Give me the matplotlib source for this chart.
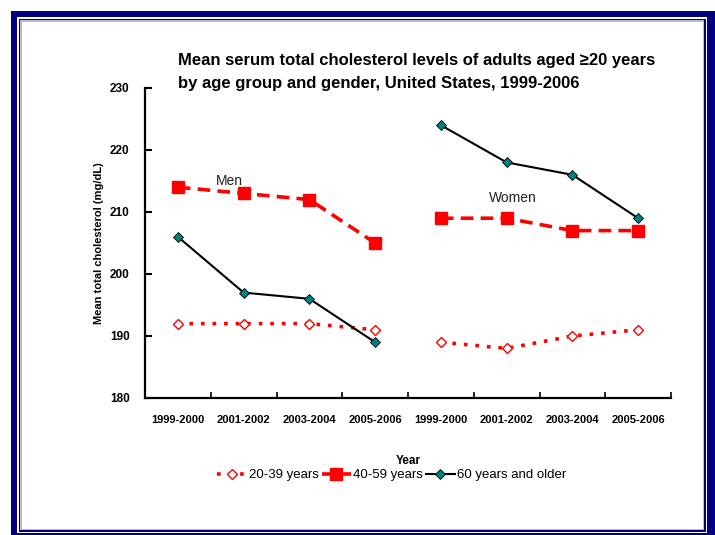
import numpy as np
import matplotlib.pyplot as plt
from matplotlib.patches import Rectangle
from matplotlib.lines import Line2D

plt.rcParams['font.family'] = ['Liberation Sans', 'DejaVu Sans']

periods = ["1999-2000", "2001-2002", "2003-2004", "2005-2006"]
tick_labels = periods + periods

# mean serum total cholesterol (mg/dL), men then women
men_20_39 = [192, 192, 192, 191]
men_40_59 = [214, 213, 212, 205]
men_60_up = [206, 197, 196, 189]
women_20_39 = [189, 188, 190, 191]
women_40_59 = [209, 209, 207, 207]
women_60_up = [224, 218, 216, 209]

W, H = 715, 535
fig = plt.figure(figsize=(W / 100, H / 100), dpi=100)


def px_rect(x0, y0, x1, y1, **kw):
    # rectangle given in pixel coords measured from the top-left corner
    return Rectangle((x0 / W, 1 - y1 / H), (x1 - x0) / W, (y1 - y0) / H,
                     transform=fig.transFigure, zorder=-10, **kw)


# blue double frame round the slide
navy = "#000080"
fig.patches.append(px_rect(11, 11, 716, 540, facecolor=navy, edgecolor="none"))
fig.patches.append(px_rect(17, 17, 707, 533, facecolor="white", edgecolor="none"))
fig.patches.append(px_rect(18.5, 18.5, 705.5, 531.5, facecolor=navy, edgecolor="none"))
fig.patches.append(px_rect(20, 20, 704, 530, facecolor="#b8b8e0", edgecolor="none"))
fig.patches.append(px_rect(21.5, 21.5, 702.5, 528.5, facecolor="white", edgecolor="none"))

ax = fig.add_axes([145 / W, 1 - 398 / H, (671 - 145) / W, (398 - 88) / H])
ax.set_facecolor("none")
ax.set_zorder(5)

x_men = np.arange(4)
x_women = np.arange(4, 8)

red = "#ff0000"
teal = "#008080"

style_young = dict(color=red, linestyle=(0, (1, 2.2)), linewidth=2.6,
                   marker="D", markersize=5, markerfacecolor="white",
                   markeredgecolor=red, markeredgewidth=1.0)
style_mid = dict(color=red, linestyle=(0, (3.5, 2.0)), linewidth=2.6,
                 marker="s", markersize=8, markerfacecolor=red,
                 markeredgecolor=red)
style_old = dict(color="black", linestyle="-", linewidth=1.5,
                 marker="D", markersize=5, markerfacecolor=teal,
                 markeredgecolor="black", markeredgewidth=0.6)

for xs, young, mid, old in [(x_men, men_20_39, men_40_59, men_60_up),
                            (x_women, women_20_39, women_40_59, women_60_up)]:
    ax.plot(xs, young, clip_on=False, **style_young)
    ax.plot(xs, mid, clip_on=False, **style_mid)
    ax.plot(xs, old, clip_on=False, **style_old)

ax.set_xlim(-0.5, 7.5)
ax.set_ylim(180, 230)
ax.set_yticks(np.arange(180, 231, 10))
ax.set_xticks(np.arange(8))
ax.set_xticklabels(tick_labels, fontsize=8, fontweight="bold")
ax.set_xticks(np.arange(-0.5, 8, 1), minor=True)
ax.tick_params(axis="x", which="major", length=0, pad=12)
ax.tick_params(axis="x", which="minor", length=4, width=1.2, direction="in")
ax.tick_params(axis="y", length=5, width=1.5, direction="in", labelsize=8.5, pad=11)
for lab in ax.get_yticklabels():
    lab.set_fontweight("bold")

for side in ["top", "right"]:
    ax.spines[side].set_visible(False)
for side in ["left", "bottom"]:
    ax.spines[side].set_linewidth(1.6)

ax.set_xlabel("Year", fontsize=8.5, fontweight="bold", labelpad=22)
ax.set_ylabel("Mean total cholesterol (mg/dL)", fontsize=8, fontweight="bold", labelpad=4)

ax.text(0.58, 215.0, "Men", fontsize=10, color="#222222", va="center")
ax.text(4.73, 212.3, "Women", fontsize=10, color="#222222", va="center")

fig.text(178 / W, 1 - 72 / H,
         "Mean serum total cholesterol levels of adults aged \u226520 years\n"
         "by age group and gender, United States, 1999-2006",
         fontsize=12, fontweight="bold", ha="left", va="center", linespacing=1.6)

handles = [
    Line2D([], [], **style_young),
    Line2D([], [], **style_mid),
    Line2D([], [], **style_old),
]
fig.legend(handles, ["20-39 years", "40-59 years", "60 years and older"],
           loc="center", bbox_to_anchor=(392 / W, 1 - 475 / H), ncol=3,
           frameon=False, fontsize=9.5, handlelength=2.2, handletextpad=0.2,
           columnspacing=0.2)

fig.savefig("out.png", dpi=100)
